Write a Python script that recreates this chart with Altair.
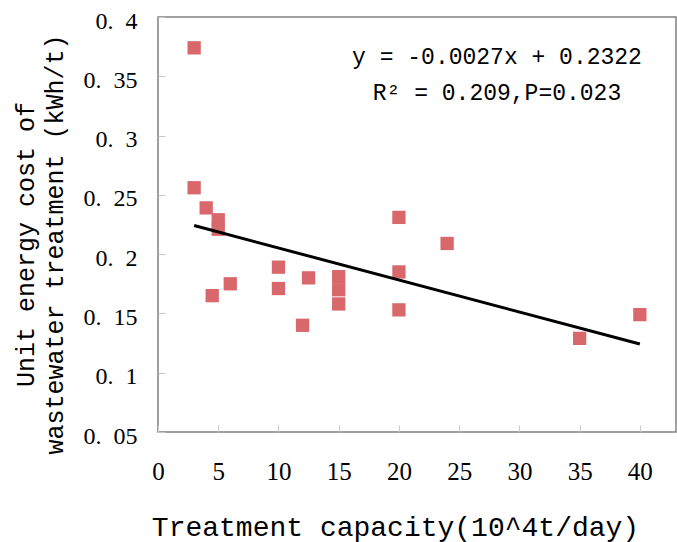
import altair as alt
import pandas as pd

# Treatment capacity (10^4 t/day) and unit energy cost (kWh/t)
capacity = [3, 3, 4, 4.5, 5, 5, 6, 10, 10, 12, 12.5, 15, 15, 15, 20, 20, 20, 24, 35, 40]
energy = [0.374, 0.256, 0.239, 0.165, 0.229, 0.221, 0.175, 0.189, 0.171, 0.140,
          0.180, 0.181, 0.170, 0.158, 0.231, 0.185, 0.153, 0.209, 0.129, 0.149]

# regression line end points (y = -0.0027x + 0.2322)
fit_x = [3, 40]
fit_y = [0.2241, 0.1242]

x_ticks = [0, 5, 10, 15, 20, 25, 30, 35, 40]
y_ticks = [0.05, 0.1, 0.15, 0.2, 0.25, 0.3, 0.35, 0.4]

eq_text = "y = -0.0027x + 0.2322\nR² = 0.209,P=0.023"

SERIF = "Liberation Serif, Times New Roman, Tinos, Times, serif"
MONO = "Liberation Mono, Courier New, Cousine, monospace"

pts = pd.DataFrame({"capacity": capacity, "energy": energy})
fit = pd.DataFrame({"capacity": fit_x, "energy": fit_y})
one = pd.DataFrame({"k": [0]})

xscale = alt.Scale(domain=[0, 43], nice=False, zero=False)
yscale = alt.Scale(domain=[0.05, 0.4], nice=False, zero=False)

xaxis = alt.Axis(
    values=x_ticks, offset=-7, tickSize=7, domain=False, grid=False,
    tickColor="#c8c8c8", tickWidth=1,
    labelFont=SERIF, labelFontSize=25, labelColor="black",
    labelBaseline="alphabetic", labelPadding=47, labelFlush=False,
    title="Treatment capacity(10^4t/day)", titleFont=MONO,
    titleFontSize=28, titleFontWeight="normal", titleColor="black",
    titleX=237, titleY=110, titleAlign="center", titleBaseline="alphabetic",
)
yaxis = alt.Axis(
    values=y_ticks, offset=-7, tickSize=7, domain=False, grid=False,
    tickColor="#c8c8c8", tickWidth=1, format=".2~f",
    labelExpr="replace(datum.label, '.', '.\u00a0\u00a0')",
    labelFont=SERIF, labelFontSize=24, labelColor="black",
    labelPadding=21, labelOffset=4, labelFlush=False,
    title=["Unit energy cost of", "wastewater treatment (kWh/t)"],
    titleFont=MONO, titleFontSize=25, titleFontWeight="normal",
    titleColor="black", titleLineHeight=29,
    titleX=-132, titleY=227, titleAlign="center", titleBaseline="alphabetic",
)

points = alt.Chart(pts).mark_square(size=177, color="#d9686c", opacity=1).encode(
    x=alt.X("capacity:Q", scale=xscale, axis=xaxis),
    y=alt.Y("energy:Q", scale=yscale, axis=yaxis),
)

line = alt.Chart(fit).mark_line(color="black", strokeWidth=3).encode(
    x=alt.X("capacity:Q", scale=xscale),
    y=alt.Y("energy:Q", scale=yscale),
)

label = alt.Chart(one).mark_text(
    font=MONO, fontSize=23, align="center", baseline="alphabetic",
    lineBreak="\n", lineHeight=36, color="black",
).encode(x=alt.value(339), y=alt.value(47), text=alt.value(eq_text))

chart = (
    alt.layer(points, line, label)
    .properties(
        width=518, height=415,
        autosize=alt.AutoSizeParams(type="none"),
        padding={"left": 158, "top": 17, "right": 1, "bottom": 110},
        background="white",
    )
    .configure_view(stroke="#808080", strokeWidth=1.5)
)

chart.save("out.html", embed_options={"renderer": "svg", "actions": False})
